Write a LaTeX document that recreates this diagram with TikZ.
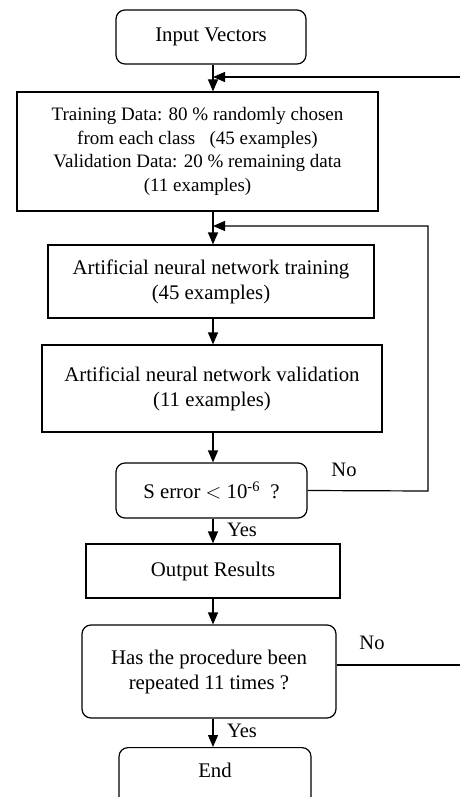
\documentclass[tikz,border=0pt]{standalone}
\usepackage{fontspec}
\setmainfont{Liberation Serif}
\usetikzlibrary{arrows.meta}
\begin{document}
\begin{tikzpicture}[x=1pt,y=1pt,
  box/.style={draw,line width=1.2pt,inner sep=0pt,align=center,font=\fontsize{20.8}{25}\selectfont},
  rbox/.style={box,rounded corners=9pt},
  arr/.style={line width=1.2pt,-{Triangle[length=12pt,width=10pt]}},
  ln/.style={line width=1.2pt},
  lab/.style={font=\fontsize{20.5}{24}\selectfont,inner sep=0pt}]
\useasboundingbox (0,0) rectangle (460,-797);
\clip (0,0) rectangle (460,-797);
\node[rbox,minimum width=190pt,minimum height=54pt] (iv) at (211,-37) {Input Vectors};
\node[box,minimum width=361pt,minimum height=119pt,font=\fontsize{19}{23.5}\selectfont] (td) at (197.5,-151.5) {Training Data: 80 \% randomly chosen\\from each class \ \ (45 examples)\\Validation Data: 20 \% remaining data\\(11 examples)};
\node[box,minimum width=326pt,minimum height=73pt] (tr) at (211,-281.5) {Artificial neural network training\\(45 examples)};
\node[box,minimum width=340pt,minimum height=87pt] (va) at (212,-388.5) {Artificial neural network validation\\(11 examples)};
\node[rbox,minimum width=191pt,minimum height=55pt] (se) at (211.5,-490.5) {S error $<$ 10\textsuperscript{-6} \ ?};
\node[box,minimum width=254pt,minimum height=54pt] (out) at (213,-571) {Output Results};
\node[rbox,minimum width=254pt,minimum height=93pt] (rep) at (209,-671.5) {Has the procedure been\\repeated 11 times ?};
\node[rbox,minimum width=192pt,anchor=north,inner ysep=10pt,text height=20pt,text depth=60pt] (end) at (215,-747) {End};
\coordinate (sp) at (213,0);
\coordinate (j1) at (213,-77);
\coordinate (r1) at (460,-77);
\coordinate (j2) at (213,-226);
\coordinate (c2) at (428,-491);
\coordinate (r2) at (460,-665);
\draw[arr] (iv.south -| sp) -- (td.north -| sp);
\draw[arr] (r1) -- (j1);
\draw[arr] (td.south -| sp) -- (tr.north -| sp);
\draw[arr] (tr.south -| sp) -- (va.north -| sp);
\draw[arr] (va.south -| sp) -- (se.north -| sp);
\draw[arr] (se.east) -- (c2) |- (j2);
\draw[arr] (se.south -| sp) -- (out.north -| sp);
\draw[arr] (out.south -| sp) -- (rep.north -| sp);
\draw[ln] (rep.east |- r2) -- (r2);
\draw[arr] (rep.south -| sp) -- (end.north -| sp);
\node[lab] (n1) at (344,-470) {No};
\node[lab] (y1) at (242,-530) {Yes};
\node[lab] (n2) at (372,-643) {No};
\node[lab] (y2) at (242,-731) {Yes};
\end{tikzpicture}
\end{document}
